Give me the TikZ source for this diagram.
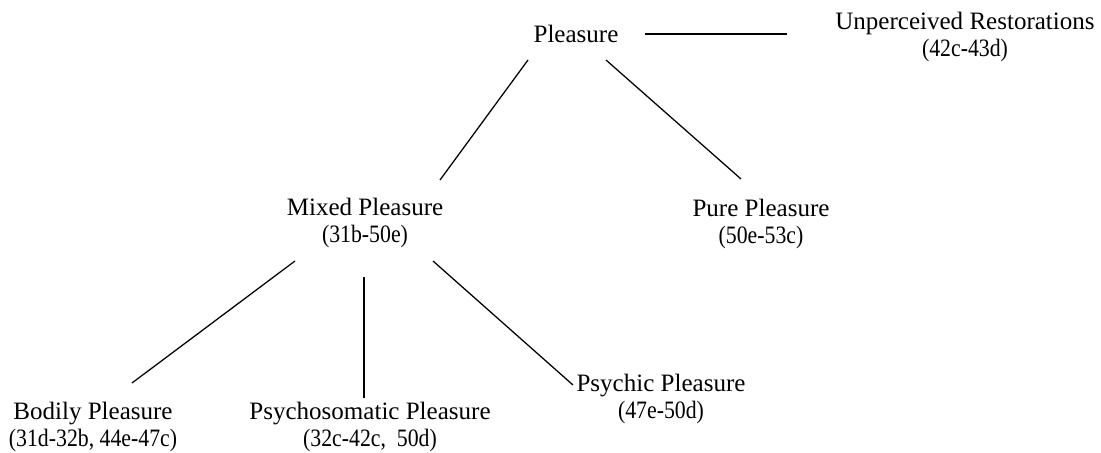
\documentclass[tikz,border=0pt]{standalone}
\usepackage{fontspec}
\setmainfont{Liberation Serif}
\newfontfamily\passagefont[FakeStretch=0.87]{Liberation Serif}
\usepackage{tikz}
\usetikzlibrary{positioning}
\newcommand{\passages}{\passagefont\fontsize{17.8}{19.2}\selectfont}

\begin{document}
\begin{tikzpicture}[x=0.025cm,y=-0.025cm,
    term/.style={align=center,inner sep=0pt,font=\fontsize{17.8}{19.2}\selectfont},
    link/.style={line width=0.9pt,black}]
  \useasboundingbox[fill=white] (0,0) rectangle (1101,453);
  % terms
  \node[term,anchor=base] (pleasure) at (576,43) {Pleasure};
  \node[term] (unperceived) at (965,37) {Unperceived Restorations\\\passages(42c-43d)};
  \node[term] (mixed) at (365,223) {Mixed Pleasure\\\passages(31b-50e)};
  \node[term] (pure) at (761,224) {Pure Pleasure\\\passages(50e-53c)};
  \node[term] (bodily) at (93,427) {Bodily Pleasure\\\passages(31d-32b, 44e-47c)};
  \node[term] (psychosomatic) at (370,427) {Psychosomatic Pleasure\\\passages(32c-42c,~ 50d)};
  \node[term] (psychic) at (661,399) {Psychic Pleasure\\\passages(47e-50d)};
  % line ends
  \coordinate (pleasure-e) at (645,34);
  \coordinate (unperceived-w) at (787,34);
  \coordinate (pleasure-sw) at (528,60);
  \coordinate (mixed-n) at (440,180);
  \coordinate (pleasure-se) at (606,60);
  \coordinate (pure-n) at (741,179);
  \coordinate (mixed-sw) at (295,261);
  \coordinate (bodily-n) at (132,383);
  \coordinate (mixed-s) at (364,277);
  \coordinate (psychosomatic-n) at (364,398);
  \coordinate (mixed-se) at (433,261);
  \coordinate (psychic-n) at (573,385);
  % connectors
  \draw[link] (pleasure-e) -- (unperceived-w);
  \draw[link] (pleasure-sw) -- (mixed-n);
  \draw[link] (pleasure-se) -- (pure-n);
  \draw[link] (mixed-sw) -- (bodily-n);
  \draw[link] (mixed-s) -- (psychosomatic-n);
  \draw[link] (mixed-se) -- (psychic-n);
\end{tikzpicture}
\end{document}
